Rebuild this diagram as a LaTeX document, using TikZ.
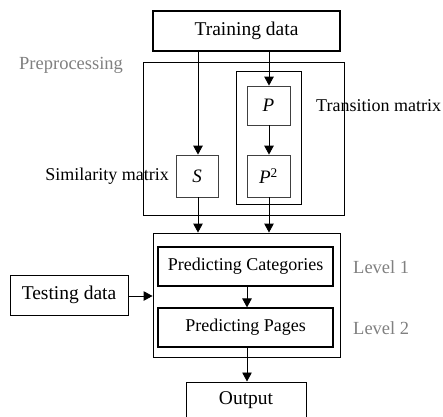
\documentclass[tikz,border=0pt]{standalone}
\usepackage{fontspec}
\setmainfont{Liberation Serif}
\usetikzlibrary{arrows.meta}
\begin{document}
\begin{tikzpicture}[x=1pt,y=-1pt,
  box/.style={draw, rectangle, inner sep=0pt, line width=1pt, font=\fontsize{18}{20}\selectfont},
  thinbox/.style={draw=black!75, rectangle, inner sep=0pt, line width=0.8pt, font=\fontsize{19}{21}\selectfont},
  frame/.style={draw, rectangle, inner sep=0pt, line width=0.9pt},
  lbl/.style={inner sep=0pt, font=\fontsize{18}{20}\selectfont},
  glbl/.style={inner sep=0pt, text=black!50, font=\fontsize{18.5}{20}\selectfont},
  arr/.style={-{Triangle[length=9pt,width=9.5pt]}, line width=0.9pt}]
\useasboundingbox (0,0) rectangle (443,416);
% frames
\node[frame, minimum width=201pt, minimum height=153pt] (prep) at (243.5,138.5) {};
\node[frame, minimum width=65pt, minimum height=133pt] (trans) at (268.5,137.5) {};
\node[frame, minimum width=187pt, minimum height=124pt] (level) at (246.5,295) {};
% boxes
\node[box, line width=1.2pt, minimum width=187pt, minimum height=40pt, font=\fontsize{19.5}{21}\selectfont] (train) at (246.5,31) {Training data};
\node[thinbox, minimum width=43pt, minimum height=39pt] (P) at (268.5,105.5) {\itshape P};
\node[thinbox, minimum width=43pt, minimum height=42pt] (P2) at (268.5,176) {{\itshape P}\textsuperscript{2}};
\node[thinbox, minimum width=42pt, minimum height=42pt] (S) at (197,176) {\itshape S};
\node[box, line width=1.2pt, minimum width=175pt, minimum height=39pt] (cat) at (245.5,266.5) {Predicting Categories};
\node[box, line width=1.2pt, minimum width=175pt, minimum height=39pt] (pages) at (245.5,327.5) {Predicting Pages};
\node[box, minimum width=118pt, minimum height=40pt, font=\fontsize{19.5}{21}\selectfont] (test) at (69,295) {Testing data};
\node[box, minimum width=120pt, minimum height=37pt, font=\fontsize{19.5}{21}\selectfont] (out) at (246,400.5) {Output};
% labels
\node[glbl, anchor=west] (preplbl) at (19,65) {Preprocessing};
\node[lbl, anchor=west] (translbl) at (316,106) {Transition matrix};
\node[lbl, anchor=east] (simlbl) at (169,176) {Similarity matrix};
\node[glbl, anchor=west] (l1) at (353,267) {Level 1};
\node[glbl, anchor=west] (l2) at (353,328) {Level 2};
% connectors
\coordinate (tS) at (198,51);
\coordinate (tP) at (269,51);
\draw[arr] (tS) -- (tS |- S.north);
\draw[arr] (tP) -- (tP |- P.north);
\draw[arr] (tP |- P.south) -- (tP |- P2.north);
\draw[arr] (tS |- S.south) -- (tS |- level.north);
\draw[arr] (tP |- P2.south) -- (tP |- level.north);
\draw[arr] (247,0 |- cat.south) -- (247,0 |- pages.north);
\draw[arr] (247,0 |- pages.south) -- (247,0 |- out.north);
\draw[arr] (test.east |- 0,296) -- (level.west |- 0,296);
\end{tikzpicture}
\end{document}
